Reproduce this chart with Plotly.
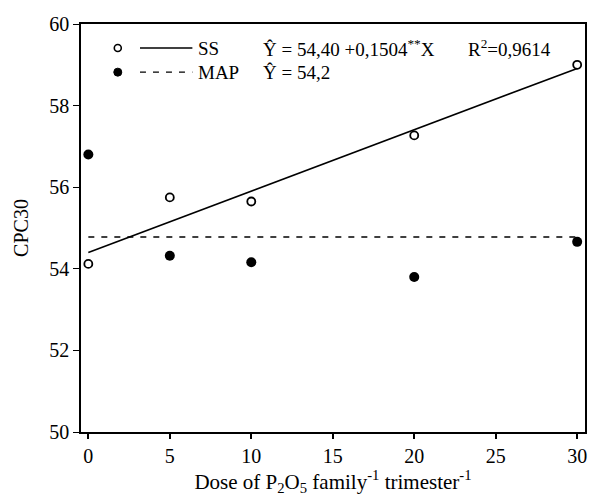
import plotly.graph_objects as go

doses = [0, 5, 10, 20, 30]
ss_values = [54.12, 55.75, 55.65, 57.27, 59.0]
map_values = [56.8, 54.32, 54.16, 53.80, 54.66]
ss_intercept = 54.40
ss_slope = 0.1504
map_mean = 54.78
x_ticks = [0, 5, 10, 15, 20, 25, 30]
y_ticks = [50, 52, 54, 56, 58, 60]

FONT = "Liberation Serif"

fig = go.Figure()
fit_x = [doses[0], doses[-1]]
fig.add_trace(go.Scatter(x=fit_x, y=[ss_intercept + ss_slope * v for v in fit_x],
                         mode="lines", line=dict(color="black", width=1.6),
                         showlegend=False, hoverinfo="skip"))
fig.add_trace(go.Scatter(x=fit_x, y=[map_mean, map_mean],
                         mode="lines", line=dict(color="black", width=1.4, dash="6px,7px"),
                         showlegend=False, hoverinfo="skip"))
fig.add_trace(go.Scatter(x=doses, y=ss_values, mode="markers",
                         marker=dict(symbol="circle-open", size=8, color="black",
                                     line=dict(width=1.8, color="black")),
                         showlegend=False))
fig.add_trace(go.Scatter(x=doses, y=map_values, mode="markers",
                         marker=dict(symbol="circle", size=10, color="black"),
                         showlegend=False))

# legend (drawn manually)
r1, r2 = 0.941, 0.882
cx = 0.073
shapes = [
    dict(type="circle", xref="paper", yref="paper", xsizemode="pixel", ysizemode="pixel",
         xanchor=cx, yanchor=r1, x0=-3.5, x1=3.5, y0=-3.5, y1=3.5,
         line=dict(color="black", width=1.6), fillcolor="white"),
    dict(type="circle", xref="paper", yref="paper", xsizemode="pixel", ysizemode="pixel",
         xanchor=cx, yanchor=r2, x0=-4, x1=4, y0=-4, y1=4,
         line=dict(color="black", width=1), fillcolor="black"),
    dict(type="line", xref="paper", yref="paper", x0=0.117, x1=0.221, y0=r1, y1=r1,
         line=dict(color="black", width=1.6)),
    dict(type="line", xref="paper", yref="paper", x0=0.117, x1=0.221, y0=r2, y1=r2,
         line=dict(color="black", width=1.4, dash="6px,7px")),
]
ann_font = dict(family=FONT, size=19, color="black")
annotations = [
    dict(x=0.229, y=r1, text="SS", xanchor="left"),
    dict(x=0.229, y=r2, text="MAP", xanchor="left"),
    dict(x=0.358, y=r1, text="Ŷ = 54,40 +0,1504<sup>**</sup>X", xanchor="left"),
    dict(x=0.358, y=r2, text="Ŷ = 54,2", xanchor="left"),
    dict(x=0.763, y=r1, text="R<sup>2</sup>=0,9614", xanchor="left"),
]
for a in annotations:
    a.update(xref="paper", yref="paper", yanchor="middle", showarrow=False, font=ann_font)

fig.update_layout(
    width=590, height=498,
    margin=dict(l=81, r=3, t=24, b=66),
    paper_bgcolor="white", plot_bgcolor="white",
    font=dict(family=FONT, size=20, color="black"),
    shapes=shapes, annotations=annotations,
    xaxis=dict(range=[-0.45, 30.48], tickvals=x_ticks, ticks="outside", ticklen=5,
               tickwidth=2, tickcolor="black", showline=True, linecolor="black",
               linewidth=1.5, mirror=True, showgrid=False, zeroline=False,
               tickfont=dict(size=20),
               title=dict(text="Dose of P<sub>2</sub>O<sub>5</sub> family<sup>-1</sup> trimester<sup>-1</sup>",
                          font=dict(size=21), standoff=0)),
    yaxis=dict(range=[50, 60], tickvals=y_ticks, ticks="outside", ticklen=6,
               tickwidth=1.2, tickcolor="black", showline=True, linecolor="black",
               linewidth=1.5, mirror=True, showgrid=False, zeroline=False,
               tickfont=dict(size=20),
               title=dict(text="CPC30", font=dict(size=20), standoff=15)),
)

fig.write_html("out.html")
